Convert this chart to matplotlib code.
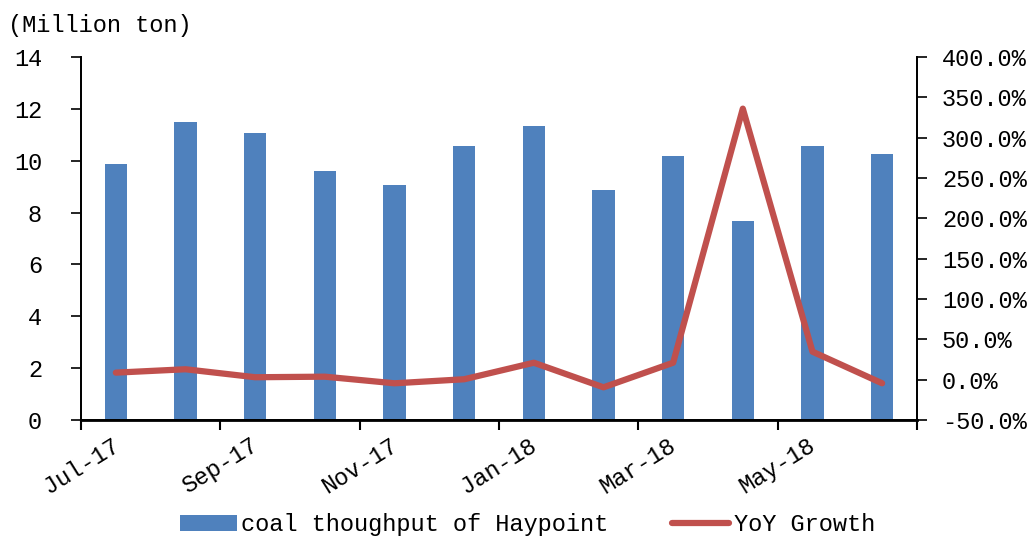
import numpy as np
import matplotlib.pyplot as plt
from matplotlib.ticker import FuncFormatter, MultipleLocator

plt.rcParams['font.family'] = ['Liberation Mono', 'DejaVu Sans']

# data
months = ['Jul-17', 'Aug-17', 'Sep-17', 'Oct-17', 'Nov-17', 'Dec-17',
          'Jan-18', 'Feb-18', 'Mar-18', 'Apr-18', 'May-18', 'Jun-18']
throughput = [9.87, 11.49, 11.07, 9.60, 9.06, 10.57,
              11.34, 8.87, 10.19, 7.66, 10.55, 10.25]
yoy_growth = [0.087, 0.129, 0.030, 0.037, -0.045, 0.005,
              0.210, -0.095, 0.210, 3.36, 0.347, -0.045]

bar_color = '#4F81BD'
line_color = '#C0504D'

fig = plt.figure(figsize=(10.28, 5.39), dpi=100)
ax = fig.add_axes([0.0788, 0.2208, 0.8132, 0.6734])
ax2 = ax.twinx()

x = np.arange(len(months))
bars = ax.bar(x, throughput, width=0.32, color=bar_color,
              label='coal thoughput of Haypoint', zorder=2)
line, = ax2.plot(x, yoy_growth, color=line_color, lw=4.5,
                 solid_capstyle='round', solid_joinstyle='round',
                 label='YoY Growth', zorder=3)

ax.set_xlim(-0.5, len(months) - 0.5)
ax.set_ylim(0, 14)
ax.yaxis.set_major_locator(MultipleLocator(2))
ax2.set_ylim(-0.5, 4.0)
ax2.yaxis.set_major_locator(MultipleLocator(0.5))
ax2.yaxis.set_major_formatter(FuncFormatter(lambda v, p: '{:.1f}%'.format(v * 100)))

# category boundary ticks, labelled every other month
tick_pos = np.arange(-0.5, len(months), 2)
tick_labels = [months[int(t + 0.5)] if t + 0.5 < len(months) else ''
               for t in tick_pos]
ax.set_xticks(tick_pos)
ax.set_xticklabels(tick_labels, rotation=32, ha='center', fontsize=17)
ax.tick_params(axis='x', direction='out', length=7, width=1.5, pad=3)
ax.tick_params(axis='y', direction='out', length=7, width=1.2, pad=21,
               labelsize=17)
ax2.tick_params(axis='y', direction='out', length=7, width=1.2, pad=11,
                labelsize=17)

for a in (ax, ax2):
    a.spines['top'].set_visible(False)
    for s in ('left', 'right', 'bottom'):
        a.spines[s].set_linewidth(1.3)
ax.spines['bottom'].set_linewidth(2)

fig.text(0.008, 0.953, '(Million ton)', fontsize=17, va='center', ha='left')

fig.legend(handles=[bars, line], loc='center', bbox_to_anchor=(0.513, 0.026),
           ncol=2, frameon=False, fontsize=17, handlelength=2.4,
           handletextpad=0.2, columnspacing=2.7)

fig.savefig('out.png', dpi=100)
